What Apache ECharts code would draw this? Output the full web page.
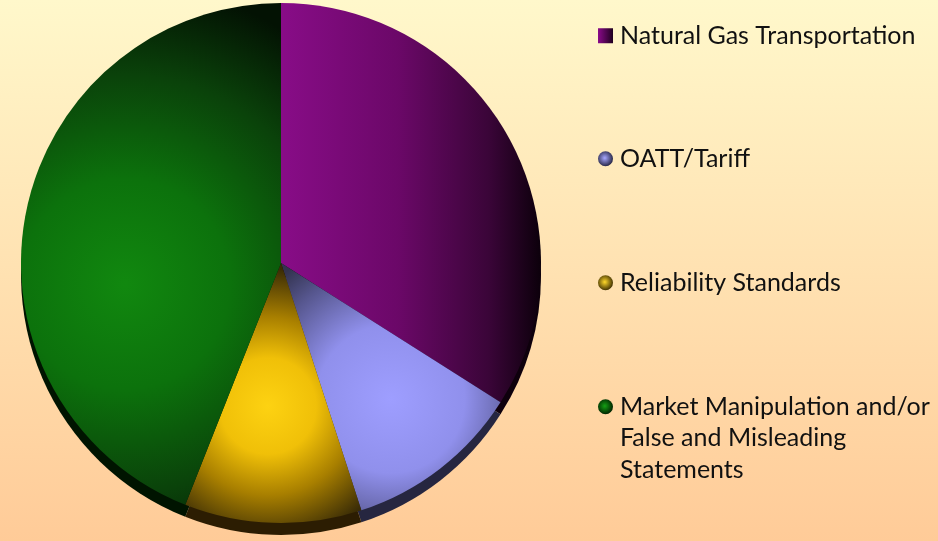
<!DOCTYPE html>
<html>
<head>
<meta charset="utf-8">
<title>Complaint categories</title>
<script src="https://cdn.jsdelivr.net/npm/echarts@6/dist/echarts.min.js"></script>
<style>
  html, body { margin: 0; padding: 0; }
  #chart { width: 938px; height: 541px; }
</style>
</head>
<body>
<div id="chart"></div>
<script>
// data (share of cases, %)
const categories = [
  'Natural Gas Transportation',
  'OATT/Tariff',
  'Reliability Standards',
  'Market Manipulation and/or False and Misleading Statements'
];
const shares = [34, 11, 11, 44];

// top face colours
const faceColors = [
  { type: 'linear', x: 0, y: 0, x2: 1, y2: 0,
    colorStops: [{ offset: 0, color: '#880c87' }, { offset: 0.45, color: '#6b0868' },
                 { offset: 0.8, color: '#3a0538' }, { offset: 1, color: '#0c000b' }] },
  { type: 'radial', x: 0.5, y: 0.55, r: 0.75,
    colorStops: [{ offset: 0, color: '#9e9eff' }, { offset: 0.45, color: '#9090ec' },
                 { offset: 0.8, color: '#56568e' }, { offset: 1, color: '#33334f' }] },
  { type: 'radial', x: 0.47, y: 0.55, r: 0.78,
    colorStops: [{ offset: 0, color: '#fdd212' }, { offset: 0.35, color: '#f0c008' },
                 { offset: 0.65, color: '#a87f00' }, { offset: 1, color: '#3a2c06' }] },
  { type: 'radial', x: 0.4, y: 0.56, r: 1.15,
    colorStops: [{ offset: 0, color: '#11880f' }, { offset: 0.35, color: '#0c720c' },
                 { offset: 0.7, color: '#0a420a' }, { offset: 1, color: '#031203' }] }
];
// the dark rim under the pie
const sideColors = ['#0e000c', '#262640', '#2c1d02', '#001400'];

// legend markers
const legendIcons = ['rect', 'circle', 'circle', 'circle'];
const legendColors = [
  { type: 'linear', x: 0, y: 0, x2: 1, y2: 0,
    colorStops: [{ offset: 0, color: '#8a0a8a' }, { offset: 1, color: '#1e001e' }] },
  { type: 'radial', x: 0.45, y: 0.45, r: 0.6,
    colorStops: [{ offset: 0, color: '#a8a8ff' }, { offset: 1, color: '#1e1e3a' }] },
  { type: 'radial', x: 0.45, y: 0.45, r: 0.6,
    colorStops: [{ offset: 0, color: '#ffd82a' }, { offset: 1, color: '#342600' }] },
  { type: 'radial', x: 0.45, y: 0.45, r: 0.6,
    colorStops: [{ offset: 0, color: '#14a014' }, { offset: 1, color: '#001a00' }] }
];
const legendTops = [20, 143, 267, 328];

const chart = echarts.init(document.getElementById('chart'));

const legendText = {
  fontFamily: 'Lato, "Liberation Sans", sans-serif',
  fontSize: 25,
  color: '#111111',
  lineHeight: 31.5,
  padding: [0, 0, 0, 2]
};

// the long label wraps; two blank lines on top keep its first line next to the marker
const legends = categories.map((name, i) => ({
  left: 598,
  top: legendTops[i],
  orient: 'vertical',
  padding: 0,
  itemWidth: 15,
  itemHeight: 15,
  selectedMode: false,
  data: [{ name: name, icon: legendIcons[i],
           itemStyle: { color: legendColors[i], borderWidth: 0 } }],
  formatter: function (n) {
    if (n === categories[3]) return '\n\nMarket Manipulation and/or\nFalse and Misleading\nStatements';
    return n;
  },
  textStyle: legendText
}));

const option = {
  animation: false,
  backgroundColor: {
    type: 'linear', x: 0, y: 0, x2: 0, y2: 1,
    colorStops: [{ offset: 0, color: '#fff8cb' }, { offset: 1, color: '#ffcb98' }]
  },
  legend: legends,
  series: [
    {
      // depth of the pie
      type: 'pie',
      silent: true,
      z: 1,
      center: [281, 275],
      radius: 260,
      startAngle: 90,
      label: { show: false },
      labelLine: { show: false },
      emphasis: { disabled: true },
      data: categories.map((name, i) => ({
        name: name, value: shares[i], itemStyle: { color: sideColors[i] }
      }))
    },
    {
      type: 'pie',
      z: 2,
      center: [281, 263],
      radius: 260,
      startAngle: 90,
      label: { show: false },
      labelLine: { show: false },
      emphasis: { disabled: true },
      itemStyle: { borderWidth: 0 },
      data: categories.map((name, i) => ({
        name: name, value: shares[i], itemStyle: { color: faceColors[i] }
      }))
    }
  ]
};

chart.setOption(option);
</script>
</body>
</html>
